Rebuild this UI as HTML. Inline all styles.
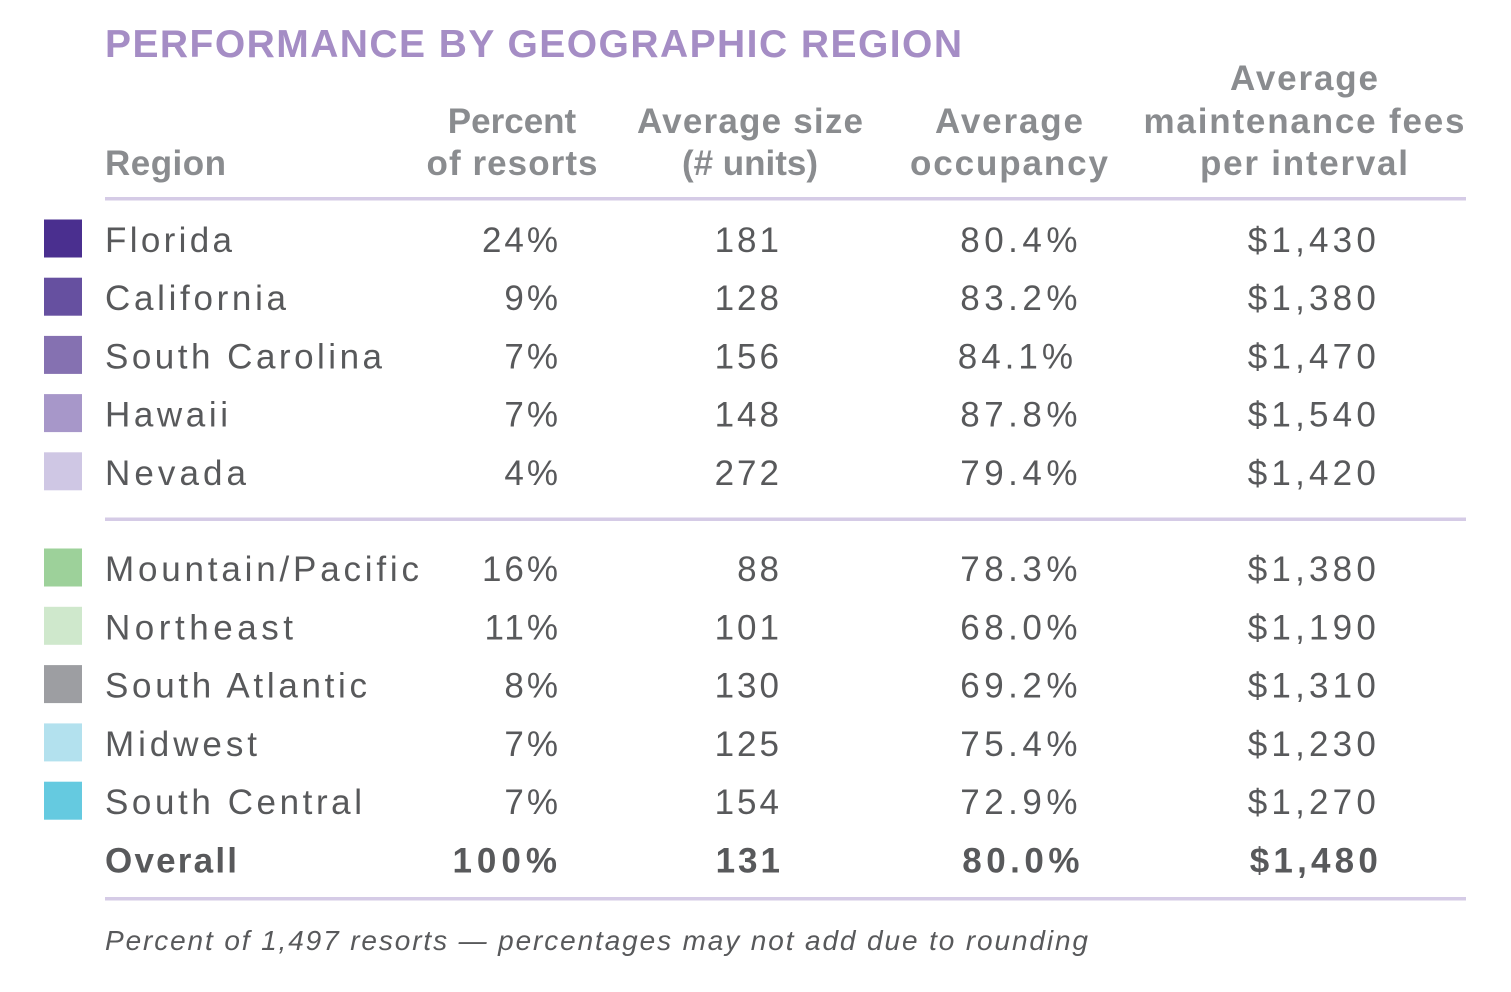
<!DOCTYPE html>
<html>
<head>
<meta charset="utf-8">
<style>
html,body{margin:0;padding:0;background:#fff;}
svg{display:block;}
text{font-family:"Liberation Sans",Arial,sans-serif;}
.t{font-size:39px;font-weight:bold;fill:#a58dc5;}
.h{font-size:35px;font-weight:bold;fill:#8a8c8f;}
.n{font-size:35px;fill:#58595b;}
.v{font-size:35px;fill:#58595b;letter-spacing:3px;}
.b{font-size:35px;font-weight:bold;fill:#58595b;letter-spacing:3px;}
.f{font-size:28px;font-style:italic;fill:#58595b;}
</style>
</head>
<body>
<svg width="1511" height="992" viewBox="0 0 1511 992" xmlns="http://www.w3.org/2000/svg">
<rect x="0" y="0" width="1511" height="992" fill="#ffffff"/>

<text class="t" x="105" y="57" textLength="857" lengthAdjust="spacing">PERFORMANCE BY GEOGRAPHIC REGION</text>

<!-- headers -->
<text class="h" x="105" y="175" textLength="121" lengthAdjust="spacing">Region</text>
<text class="h" x="512" y="133" text-anchor="middle">Percent</text>
<text class="h" x="512" y="175" text-anchor="middle" textLength="171" lengthAdjust="spacing">of resorts</text>
<text class="h" x="750" y="133" text-anchor="middle" textLength="226" lengthAdjust="spacing">Average size</text>
<text class="h" x="750" y="175" text-anchor="middle">(# units)</text>
<text class="h" x="1009" y="133" text-anchor="middle" textLength="148" lengthAdjust="spacing">Average</text>
<text class="h" x="1009" y="175" text-anchor="middle" textLength="198" lengthAdjust="spacing">occupancy</text>
<text class="h" x="1304" y="90" text-anchor="middle" textLength="148" lengthAdjust="spacing">Average</text>
<text class="h" x="1304" y="133" text-anchor="middle" textLength="321" lengthAdjust="spacing">maintenance fees</text>
<text class="h" x="1304" y="175" text-anchor="middle" textLength="208" lengthAdjust="spacing">per interval</text>

<!-- rules -->
<rect x="105" y="197" width="1361" height="3.5" fill="#d5cbe6"/>
<rect x="105" y="517.5" width="1361" height="3.5" fill="#d5cbe6"/>
<rect x="105" y="897" width="1361" height="3.5" fill="#d5cbe6"/>

<!-- swatches -->
<rect x="44" y="219.5" width="38" height="38" fill="#4a2f8f"/>
<rect x="44" y="277.7" width="38" height="38" fill="#6650a0"/>
<rect x="44" y="335.9" width="38" height="38" fill="#8571b1"/>
<rect x="44" y="394.1" width="38" height="38" fill="#a797c9"/>
<rect x="44" y="452.3" width="38" height="38" fill="#cfc7e4"/>
<rect x="44" y="548.5" width="38" height="38" fill="#9dd19a"/>
<rect x="44" y="606.8" width="38" height="38" fill="#cfe8cc"/>
<rect x="44" y="665.1" width="38" height="38" fill="#9d9ea2"/>
<rect x="44" y="723.4" width="38" height="38" fill="#b3e1ee"/>
<rect x="44" y="781.7" width="38" height="38" fill="#65cae0"/>

<!-- names -->
<text class="n" x="105" y="252" textLength="127" lengthAdjust="spacing">Florida</text>
<text class="n" x="105" y="310.2" textLength="181" lengthAdjust="spacing">California</text>
<text class="n" x="105" y="368.4" textLength="277" lengthAdjust="spacing">South Carolina</text>
<text class="n" x="105" y="426.6" textLength="123" lengthAdjust="spacing">Hawaii</text>
<text class="n" x="105" y="484.8" textLength="141" lengthAdjust="spacing">Nevada</text>
<text class="n" x="105" y="581" textLength="314" lengthAdjust="spacing">Mountain/Pacific</text>
<text class="n" x="105" y="639.3" textLength="188" lengthAdjust="spacing">Northeast</text>
<text class="n" x="105" y="697.6" textLength="262" lengthAdjust="spacing">South Atlantic</text>
<text class="n" x="105" y="755.9" textLength="152" lengthAdjust="spacing">Midwest</text>
<text class="n" x="105" y="814.2" textLength="257" lengthAdjust="spacing">South Central</text>
<text class="n" x="105" y="872.5" font-weight="bold" textLength="132" lengthAdjust="spacing">Overall</text>

<!-- percent column -->
<g text-anchor="end">
<text class="v" x="561" y="252">24%</text>
<text class="v" x="561" y="310.2">9%</text>
<text class="v" x="561" y="368.4">7%</text>
<text class="v" x="561" y="426.6">7%</text>
<text class="v" x="561" y="484.8">4%</text>
<text class="v" x="561" y="581">16%</text>
<text class="v" x="561" y="639.3">11%</text>
<text class="v" x="561" y="697.6">8%</text>
<text class="v" x="561" y="755.9">7%</text>
<text class="v" x="561" y="814.2">7%</text>
<text class="b" x="562" y="872.5" style="letter-spacing:5px">100%</text>

<!-- size column -->
<text class="v" x="782" y="252">181</text>
<text class="v" x="782" y="310.2">128</text>
<text class="v" x="782" y="368.4">156</text>
<text class="v" x="782" y="426.6">148</text>
<text class="v" x="782" y="484.8">272</text>
<text class="v" x="782" y="581">88</text>
<text class="v" x="782" y="639.3">101</text>
<text class="v" x="782" y="697.6">130</text>
<text class="v" x="782" y="755.9">125</text>
<text class="v" x="782" y="814.2">154</text>
<text class="b" x="783" y="872.5">131</text>

<!-- occupancy column -->
<text class="v" x="1082" y="252" style="letter-spacing:4.5px">80.4%</text>
<text class="v" x="1082" y="310.2" style="letter-spacing:4.5px">83.2%</text>
<text class="v" x="1077" y="368.4" style="letter-spacing:4px">84.1%</text>
<text class="v" x="1082" y="426.6" style="letter-spacing:4.5px">87.8%</text>
<text class="v" x="1082" y="484.8" style="letter-spacing:4.5px">79.4%</text>
<text class="v" x="1082" y="581" style="letter-spacing:4.5px">78.3%</text>
<text class="v" x="1082" y="639.3" style="letter-spacing:4.5px">68.0%</text>
<text class="v" x="1082" y="697.6" style="letter-spacing:4.5px">69.2%</text>
<text class="v" x="1082" y="755.9" style="letter-spacing:4.5px">75.4%</text>
<text class="v" x="1082" y="814.2" style="letter-spacing:4.5px">72.9%</text>
<text class="b" x="1084" y="872.5" style="letter-spacing:4.5px">80.0%</text>

<!-- fees column -->
<text class="v" x="1380" y="252" style="letter-spacing:4.2px">$1,430</text>
<text class="v" x="1380" y="310.2" style="letter-spacing:4.2px">$1,380</text>
<text class="v" x="1380" y="368.4" style="letter-spacing:4.2px">$1,470</text>
<text class="v" x="1380" y="426.6" style="letter-spacing:4.2px">$1,540</text>
<text class="v" x="1380" y="484.8" style="letter-spacing:4.2px">$1,420</text>
<text class="v" x="1380" y="581" style="letter-spacing:4.2px">$1,380</text>
<text class="v" x="1380" y="639.3" style="letter-spacing:4.2px">$1,190</text>
<text class="v" x="1380" y="697.6" style="letter-spacing:4.2px">$1,310</text>
<text class="v" x="1380" y="755.9" style="letter-spacing:4.2px">$1,230</text>
<text class="v" x="1380" y="814.2" style="letter-spacing:4.2px">$1,270</text>
<text class="b" x="1382" y="872.5" style="letter-spacing:4.2px">$1,480</text>
</g>

<text class="f" x="105" y="950" textLength="983" lengthAdjust="spacing">Percent of 1,497 resorts — percentages may not add due to rounding</text>
</svg>
</body>
</html>
